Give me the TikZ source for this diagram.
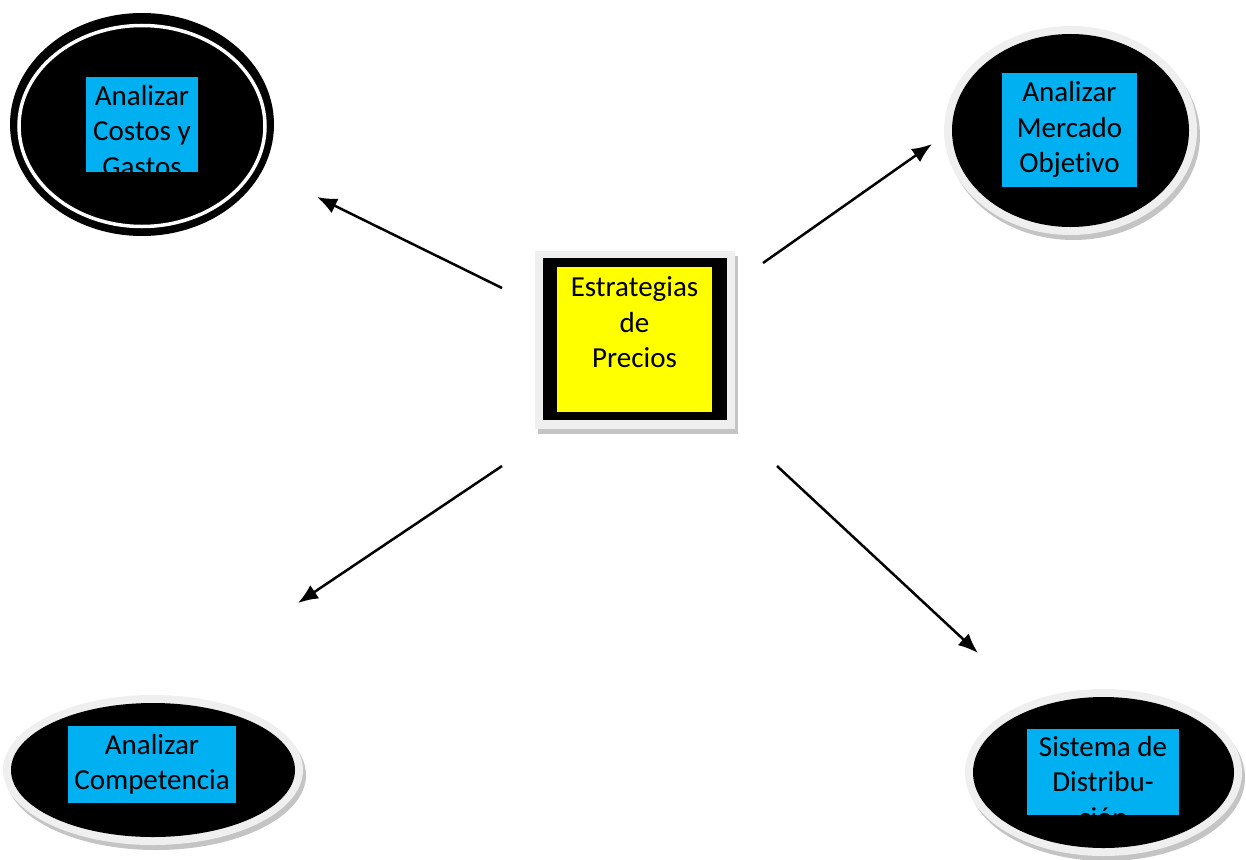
\documentclass[tikz,border=0pt]{standalone}
\usepackage{fontspec}
\setmainfont[Ligatures=NoCommon]{Carlito}
\usetikzlibrary{arrows.meta,shapes.geometric}

\definecolor{boxblue}{HTML}{00B0F0}
\definecolor{boxyellow}{HTML}{FFFF00}
\definecolor{rimgrey}{HTML}{EFEFEF}
\definecolor{shadowgrey}{HTML}{C4C4C4}

\tikzset{
  oval/.style={ellipse, fill=black, inner sep=0pt, outer sep=0pt},
  labelbox/.style={rectangle, fill=boxblue, inner sep=0pt, outer sep=0pt},
  labeltext/.style={anchor=north, inner sep=0pt, align=center,
    font=\fontsize{29}{35.5}\selectfont},
  link/.style={line width=2.5pt, -{Latex[length=20pt,width=16pt]}},
}

\begin{document}
\begin{tikzpicture}[x=1pt,y=-1pt]
\useasboundingbox (0,0) rectangle (1246,859);

% ---------- top left: Analizar Costos y Gastos ----------
\node[oval, minimum width=264, minimum height=223] (costos) at (142,124.5) {};
\draw[white, line width=3.5pt] (142,126) ellipse [x radius=123, y radius=100.5];
\node[labelbox, minimum width=112, minimum height=95] (costosbox) at (142,124.5) {};
\begin{scope}
  \clip (costosbox.south west) rectangle (costosbox.north east);
  \node[labeltext] (costostxt) at (142,80.15) {\strut Analizar\\Costos y\\Gastos};
\end{scope}

% ---------- top right: Analizar Mercado Objetivo ----------
\fill[shadowgrey] (1073.5,135.5) ellipse [x radius=126.5, y radius=104.5];
\fill[rimgrey] (1070.5,130.5) ellipse [x radius=126.5, y radius=104.5];
\node[oval, minimum width=237, minimum height=193] (mercado) at (1070.5,130.5) {};
\node[labelbox, minimum width=135, minimum height=114] (mercadobox) at (1069.5,130) {};
\begin{scope}
  \clip (mercadobox.south west) rectangle (mercadobox.north east);
  \node[labeltext] (mercadotxt) at (1069.5,76.85) {\strut Analizar\\Mercado\\Objetivo};
\end{scope}

% ---------- bottom left: Analizar Competencia ----------
\fill[shadowgrey] (156,775) ellipse [x radius=150, y radius=75];
\fill[rimgrey] (153,770) ellipse [x radius=150, y radius=75];
\node[oval, minimum width=284, minimum height=134] (competencia) at (153,770) {};
\node[labelbox, minimum width=168, minimum height=77] (competenciabox) at (152,764.5) {};
\begin{scope}
  \clip (competenciabox.south west) rectangle (competenciabox.north east);
  \node[labeltext] (competenciatxt) at (152,729.15) {\strut Analizar\\Competencia};
\end{scope}

% ---------- bottom right: Sistema de Distribucion ----------
\fill[shadowgrey] (1106.5,777.5) ellipse [x radius=138.5, y radius=83.5];
\fill[rimgrey] (1103.5,772.5) ellipse [x radius=138.5, y radius=83.5];
\node[oval, minimum width=261, minimum height=151] (distribucion) at (1103.5,772.5) {};
\node[labelbox, minimum width=152, minimum height=86] (distribucionbox) at (1103,772) {};
\begin{scope}
  \clip (distribucionbox.south west) rectangle (distribucionbox.north east);
  \node[labeltext] (distribuciontxt) at (1103,731.15) {\strut Sistema de\\Distribu-\\ción};
\end{scope}

% ---------- centre: Estrategias de Precios ----------
\fill[shadowgrey] (538,256) rectangle (738,434);
\fill[rimgrey] (535,251) rectangle (735,429);
\node[rectangle, fill=black, inner sep=0pt, minimum width=184, minimum height=162] (precios) at (635,339) {};
\node[rectangle, fill=boxyellow, inner sep=0pt, minimum width=155, minimum height=145] (preciosbox) at (634.5,339.5) {};
\node[labeltext] (preciostxt) at (634.5,271.85) {\strut Estrategias\\de\\Precios};

% ---------- connectors ----------
\coordinate (s1) at (502,288);  \coordinate (e1) at (317,197);
\coordinate (s2) at (763,263);  \coordinate (e2) at (932,144);
\coordinate (s3) at (502,466);  \coordinate (e3) at (298,603);
\coordinate (s4) at (777,466);  \coordinate (e4) at (978,653);
\draw[link] (s1) -- (e1);
\draw[link] (s2) -- (e2);
\draw[link] (s3) -- (e3);
\draw[link] (s4) -- (e4);
\end{tikzpicture}
\end{document}
